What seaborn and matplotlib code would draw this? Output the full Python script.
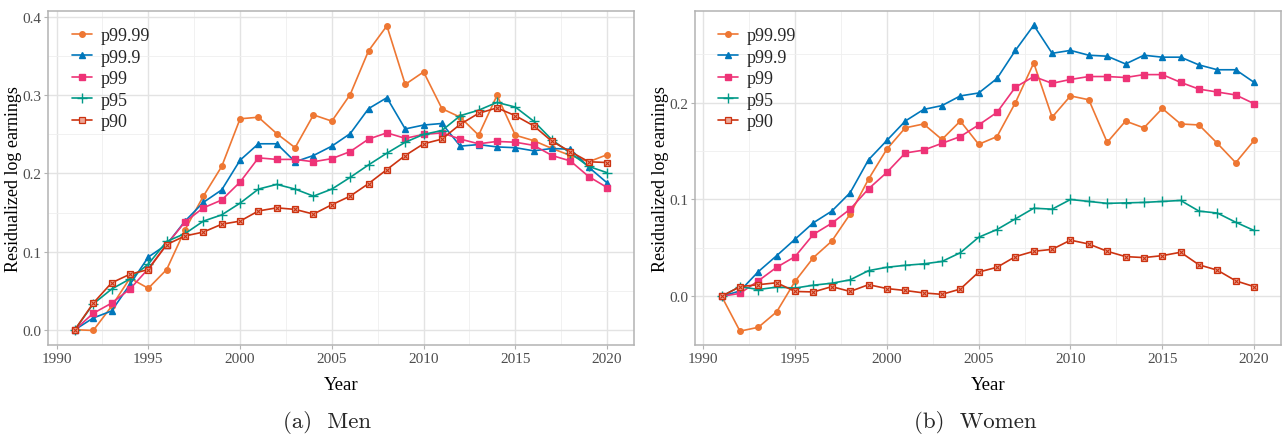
import matplotlib
matplotlib.use("Agg")
import matplotlib.pyplot as plt
import seaborn as sns
import pandas as pd
from matplotlib.ticker import MultipleLocator, FormatStrFormatter

years = list(range(1991, 2021))
series_names = ["p99.99", "p99.9", "p99", "p95", "p90"]

men_p9999 = [0.0, -0.001, 0.030, 0.066, 0.053, 0.077, 0.128, 0.171, 0.209, 0.270,
             0.272, 0.251, 0.233, 0.275, 0.267, 0.301, 0.357, 0.389, 0.314, 0.330,
             0.283, 0.272, 0.249, 0.300, 0.249, 0.242, 0.232, 0.223, 0.215, 0.224]
men_p999 = [0.0, 0.015, 0.024, 0.058, 0.093, 0.109, 0.139, 0.163, 0.179, 0.217,
            0.238, 0.238, 0.215, 0.223, 0.235, 0.251, 0.283, 0.297, 0.257, 0.262,
            0.264, 0.235, 0.237, 0.234, 0.233, 0.229, 0.232, 0.231, 0.208, 0.188]
men_p99 = [0.0, 0.021, 0.034, 0.052, 0.078, 0.109, 0.138, 0.156, 0.166, 0.189,
           0.220, 0.218, 0.218, 0.215, 0.219, 0.228, 0.244, 0.252, 0.245, 0.250,
           0.252, 0.244, 0.238, 0.241, 0.240, 0.236, 0.223, 0.216, 0.196, 0.182]
men_p95 = [0.0, 0.033, 0.052, 0.065, 0.084, 0.113, 0.123, 0.139, 0.147, 0.162,
           0.180, 0.186, 0.180, 0.171, 0.180, 0.195, 0.211, 0.226, 0.240, 0.250,
           0.255, 0.274, 0.281, 0.291, 0.285, 0.267, 0.243, 0.226, 0.209, 0.201]
men_p90 = [0.0, 0.034, 0.060, 0.071, 0.077, 0.109, 0.120, 0.125, 0.135, 0.139,
           0.152, 0.156, 0.154, 0.148, 0.160, 0.171, 0.187, 0.205, 0.223, 0.238,
           0.244, 0.263, 0.277, 0.284, 0.274, 0.261, 0.241, 0.228, 0.215, 0.214]

women_p9999 = [0.0, -0.036, -0.032, -0.016, 0.0155, 0.040, 0.057, 0.085, 0.121, 0.152,
               0.174, 0.178, 0.162, 0.181, 0.157, 0.165, 0.200, 0.241, 0.185, 0.207,
               0.203, 0.159, 0.181, 0.174, 0.194, 0.178, 0.177, 0.158, 0.138, 0.161]
women_p999 = [0.0, 0.0055, 0.0255, 0.042, 0.059, 0.076, 0.088, 0.107, 0.141, 0.161,
              0.181, 0.193, 0.197, 0.207, 0.210, 0.225, 0.254, 0.280, 0.251, 0.254,
              0.249, 0.248, 0.240, 0.249, 0.247, 0.247, 0.239, 0.234, 0.234, 0.221]
women_p99 = [0.0, 0.003, 0.016, 0.030, 0.041, 0.064, 0.0755, 0.090, 0.111, 0.128,
             0.148, 0.151, 0.158, 0.165, 0.177, 0.190, 0.216, 0.227, 0.220, 0.224,
             0.227, 0.227, 0.226, 0.229, 0.229, 0.221, 0.214, 0.211, 0.208, 0.199]
women_p95 = [0.0, 0.010, 0.007, 0.0095, 0.0085, 0.0115, 0.0135, 0.017, 0.0265, 0.030,
             0.032, 0.0335, 0.036, 0.045, 0.061, 0.069, 0.080, 0.091, 0.090, 0.100,
             0.098, 0.096, 0.0965, 0.097, 0.098, 0.099, 0.088, 0.086, 0.0765, 0.068]
women_p90 = [0.0, 0.010, 0.012, 0.014, 0.005, 0.0045, 0.010, 0.005, 0.012, 0.008,
             0.006, 0.0035, 0.002, 0.0075, 0.025, 0.030, 0.041, 0.0465, 0.0485, 0.058,
             0.054, 0.0465, 0.041, 0.040, 0.042, 0.0455, 0.0325, 0.027, 0.016, 0.010]

men = [men_p9999, men_p999, men_p99, men_p95, men_p90]
women = [women_p9999, women_p999, women_p99, women_p95, women_p90]

colors = ["#EE7733", "#0077BB", "#EE3377", "#009988", "#CC3311"]
markers = ["o", "^", "s", "+", "s"]
msizes = [4, 5, 4, 7, 5]

sns.set_theme(style="whitegrid")
plt.rcParams['font.family'] = ['Liberation Serif', 'DejaVu Serif']

fig = plt.figure(figsize=(12.83, 4.39), dpi=100)
ax1 = fig.add_axes([48.3 / 1283, 1 - 346 / 439, (633.7 - 48.3) / 1283, 334 / 439])
ax2 = fig.add_axes([695 / 1283, 1 - 346 / 439, (1280.7 - 695) / 1283, 334 / 439])


def draw(ax, data, ylim, yticks, leg_x):
    ax.set_facecolor("white")
    for name, vals, c, m, ms in zip(series_names, data, colors, markers, msizes):
        df = pd.DataFrame({"Year": years, "v": vals})
        kw = dict(marker=m, markersize=ms, markeredgewidth=1.0, color=c,
                  markeredgecolor=c, linewidth=1.2)
        if name == "p90":
            kw.update(markerfacecolor="#EDA797", markeredgewidth=0.9)
        sns.lineplot(data=df, x="Year", y="v", ax=ax, label=name, **kw)
        if name == "p90":
            sns.scatterplot(data=df, x="Year", y="v", ax=ax, marker="x", s=9,
                            color=c, linewidth=0.8, legend=False, zorder=5)
    ax.set_xlim(1989.55, 2021.45)
    ax.set_ylim(*ylim)
    ax.set_xticks([1990, 1995, 2000, 2005, 2010, 2015, 2020])
    ax.set_yticks(yticks)
    ax.yaxis.set_major_formatter(FormatStrFormatter("%.1f"))
    ax.xaxis.set_minor_locator(MultipleLocator(2.5))
    ax.yaxis.set_minor_locator(MultipleLocator(0.05))
    ax.grid(which="major", color="#E3E3E3", linewidth=1.0)
    ax.grid(which="minor", color="#EFEFEF", linewidth=0.6)
    ax.set_axisbelow(True)
    for s in ax.spines.values():
        s.set_color("#B3B3B3")
        s.set_linewidth(1.1)
    ax.tick_params(axis="both", which="major", length=3, width=0.8, color="#B3B3B3",
                   labelsize=11, labelcolor="#4D4D4D", pad=2, bottom=True, left=True)
    ax.tick_params(axis="both", which="minor", length=0)
    ax.set_xlabel("Year", fontsize=13.5, labelpad=8, color="black")
    ax.set_ylabel("Residualized log earnings", fontsize=13, labelpad=0, color="black")
    ax.legend(loc="upper left", bbox_to_anchor=(leg_x, 0.952), frameon=False,
              fontsize=13, handlelength=1.1, labelspacing=0.25, handletextpad=0.5,
              borderaxespad=0, borderpad=0)


draw(ax1, men, (-0.0196, 0.408), [0.0, 0.1, 0.2, 0.3, 0.4], 0.04)
draw(ax2, women, (-0.0503, 0.2947), [0.0, 0.1, 0.2], 0.039)

fig.text(327 / 1283, 1 - 423 / 439, "(a)  Men", family="cmr10", fontsize=16.5,
         ha="center", va="center")
fig.text(975 / 1283, 1 - 423 / 439, "(b)  Women", family="cmr10", fontsize=16.5,
         ha="center", va="center")

fig.savefig("out.png", dpi=100)
